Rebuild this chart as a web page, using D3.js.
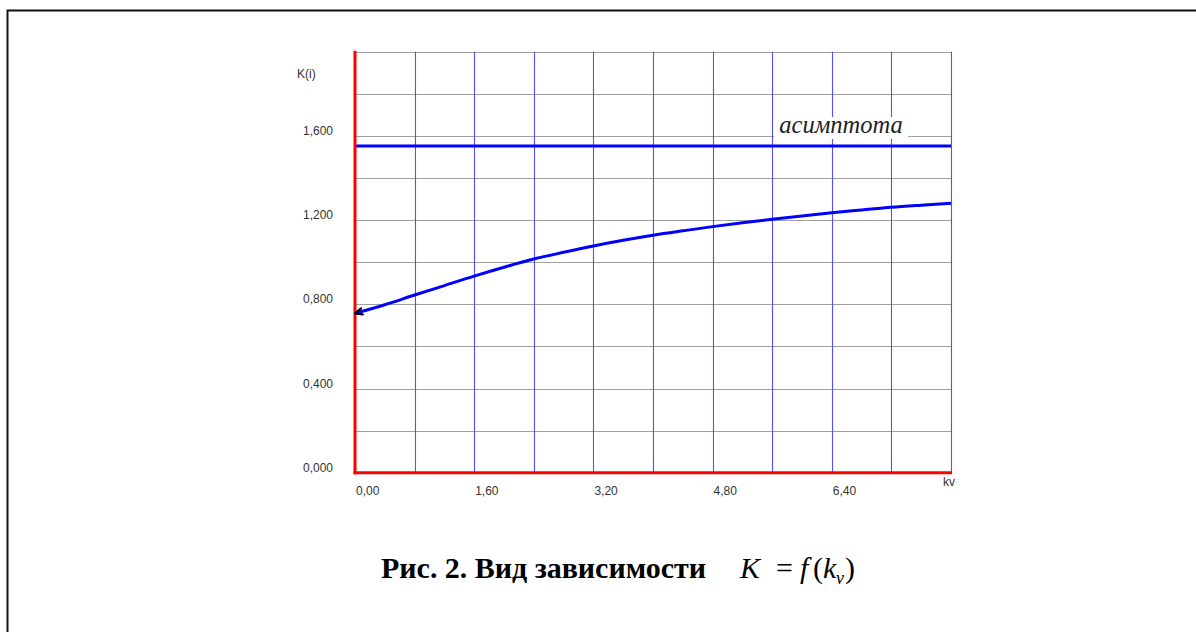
<!DOCTYPE html>
<html>
<head>
<meta charset="utf-8">
<script src="https://cdn.jsdelivr.net/npm/d3@7"></script>
<style>
  html, body { margin: 0; padding: 0; background: #fff; }
  svg { display: block; }
</style>
</head>
<body>
<svg id="chart" width="1196" height="632"></svg>
<script>
// ---- data ----
const kv = [0, 0.4, 0.8, 1.2, 1.6, 2.0, 2.4, 2.8, 3.2, 3.6, 4.0, 4.4, 4.8, 5.2, 5.6, 6.0, 6.4, 6.8, 7.2, 7.6, 8.0];
const K  = [0.757, 0.798, 0.844, 0.889, 0.934, 0.976, 1.015, 1.047, 1.077, 1.104, 1.128, 1.149, 1.169, 1.187, 1.204, 1.220, 1.235, 1.248, 1.261, 1.271, 1.280];
const asymptote = 1.552;
const xGrid = [0, 0.8, 1.6, 2.4, 3.2, 4.0, 4.8, 5.6, 6.4, 7.2, 8.0];
const yGrid = [0, 0.2, 0.4, 0.6, 0.8, 1.0, 1.2, 1.4, 1.6, 1.8, 2.0];
const xTickVals = [0, 1.6, 3.2, 4.8, 6.4];
const xTickLabels = ["0,00", "1,60", "3,20", "4,80", "6,40"];
const yTickVals = [0, 0.4, 0.8, 1.2, 1.6];
const yTickLabels = ["0,000", "0,400", "0,800", "1,200", "1,600"];
const asymLabel = "асимптота";
const yTitle = "K(i)";
const xTitle = "kv";
const captionText = "Рис. 2. Вид зависимости";

// ---- layout ----
const svg = d3.select("#chart");
const x = d3.scaleLinear().domain([0, 8.0]).range([355, 951]);
const y = d3.scaleLinear().domain([0, 2.0]).range([472.7, 51.7]);

// frame
svg.append("path")
  .attr("d", "M7.5,700 L7.5,10.5 L1300,10.5")
  .attr("fill", "none").attr("stroke", "#111").attr("stroke-width", 2);

// horizontal grid
svg.append("g").selectAll("line").data(yGrid.slice(1)).join("line")
  .attr("x1", x(0)).attr("x2", x(8.0))
  .attr("y1", d => Math.round(y(d)) + 0.5).attr("y2", d => Math.round(y(d)) + 0.5)
  .attr("stroke", "#a0a0a0").attr("stroke-width", 1.2);

// vertical grid
svg.append("g").selectAll("line").data(xGrid.slice(1)).join("line")
  .attr("x1", d => Math.round(x(d)) + 0.5).attr("x2", d => Math.round(x(d)) + 0.5)
  .attr("y1", y(2.0)).attr("y2", y(0))
  .attr("stroke", "#5050ff").attr("stroke-width", 1.1);

// asymptote
svg.append("line")
  .attr("x1", x(0)).attr("x2", x(8.0))
  .attr("y1", y(asymptote)).attr("y2", y(asymptote))
  .attr("stroke", "#0000ff").attr("stroke-width", 3);

// label with white background
svg.append("rect").attr("x", 774).attr("y", 117).attr("width", 134).attr("height", 22).attr("fill", "#fff");
svg.append("text").attr("x", 841).attr("y", 133)
  .attr("text-anchor", "middle")
  .attr("font-family", "Liberation Serif, Times New Roman, serif")
  .attr("font-style", "italic").attr("font-size", 24.5).attr("fill", "#222")
  .text(asymLabel);

// axes (red)
svg.append("line").attr("x1", x(0)).attr("x2", x(0)).attr("y1", y(2.0) - 1).attr("y2", y(0) + 1.5)
  .attr("stroke", "#ff0000").attr("stroke-width", 3);
svg.append("line").attr("x1", x(0) - 1.5).attr("x2", x(8.0) + 1).attr("y1", y(0)).attr("y2", y(0))
  .attr("stroke", "#ff0000").attr("stroke-width", 3);

// arrow marker
const defs = svg.append("defs");
defs.append("marker").attr("id", "arr").attr("viewBox", "0 0 10 10")
  .attr("refX", 9).attr("refY", 5).attr("markerWidth", 9).attr("markerHeight", 9)
  .attr("orient", "auto-start-reverse").attr("markerUnits", "userSpaceOnUse")
  .append("path").attr("d", "M1,1.5 L9,5 L1,8.5")
  .attr("fill", "none").attr("stroke", "#000").attr("stroke-width", 2.6)
  .attr("stroke-linejoin", "round").attr("stroke-linecap", "round");

// curve
const line = d3.line().x((d, i) => x(kv[i])).y(d => y(d)).curve(d3.curveMonotoneX);
svg.append("path").datum(K)
  .attr("d", line)
  .attr("fill", "none").attr("stroke", "#0000ff").attr("stroke-width", 3)
  .attr("marker-start", "url(#arr)");

// tick labels
const fontSans = "Liberation Sans, Arial, sans-serif";
svg.append("g").selectAll("text").data(yTickVals).join("text")
  .attr("x", 333).attr("y", d => y(d) - 1)
  .attr("text-anchor", "end")
  .attr("font-family", fontSans).attr("font-size", 12).attr("fill", "#333")
  .text((d, i) => yTickLabels[i]);

svg.append("g").selectAll("text").data(xTickVals).join("text")
  .attr("x", d => x(d) + 1).attr("y", 495)
  .attr("font-family", fontSans).attr("font-size", 12).attr("fill", "#333")
  .text((d, i) => xTickLabels[i]);

svg.append("text").attr("x", 297).attr("y", 78)
  .attr("font-family", fontSans).attr("font-size", 12).attr("fill", "#333").text(yTitle);
svg.append("text").attr("x", 943).attr("y", 486)
  .attr("font-family", fontSans).attr("font-size", 12).attr("fill", "#333").text(xTitle);

// caption
const cap = svg.append("text").attr("x", 381).attr("y", 578)
  .attr("font-family", "Liberation Serif, Times New Roman, serif")
  .attr("font-size", 30).attr("fill", "#000");
cap.append("tspan").attr("font-weight", "bold").attr("textLength", 325).attr("lengthAdjust", "spacing").text(captionText);
cap.append("tspan").attr("x", 740).attr("font-style", "italic").text("K");
cap.append("tspan").attr("x", 776).text("=");
cap.append("tspan").attr("x", 800).attr("font-style", "italic").text("f");
cap.append("tspan").attr("x", 813).text("(");
cap.append("tspan").attr("x", 823).attr("font-style", "italic").text("k");
cap.append("tspan").attr("x", 836).attr("dy", 6).attr("font-size", 18).attr("font-style", "italic").text("ν");
cap.append("tspan").attr("x", 845).attr("dy", -6).text(")");
</script>
</body>
</html>
